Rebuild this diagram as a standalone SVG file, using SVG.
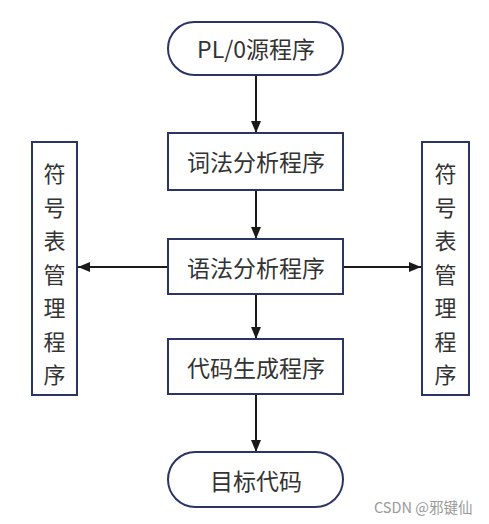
<svg xmlns="http://www.w3.org/2000/svg" width="489" height="524" viewBox="0 0 489 524">
<style>
.n{fill:#fff;stroke:#2b3466;stroke-width:2}
.t{font-family:"Noto Sans CJK SC","Noto Sans",sans-serif;font-size:23px;fill:#333;text-anchor:middle;dominant-baseline:central}
.v{font-size:22px}
.c{stroke:#1a1a1a;stroke-width:2;fill:none;marker-end:url(#a)}
.w{font-family:"Noto Sans CJK SC","Liberation Sans",sans-serif;font-size:14.5px;fill:#999}
</style>
<defs>
<marker id="a" viewBox="0 0 12 10" refX="12" refY="5" markerWidth="12" markerHeight="10" markerUnits="userSpaceOnUse" orient="auto">
<path d="M0,0 L12,5 L0,10 z" fill="#1a1a1a"/>
</marker>
</defs>
<rect width="489" height="524" fill="#fff"/>
<g id="connectors">
<line class="c" x1="256" y1="75" x2="256" y2="133"/>
<line class="c" x1="256" y1="190" x2="256" y2="239"/>
<line class="c" x1="256" y1="294" x2="256" y2="339"/>
<line class="c" x1="256" y1="394" x2="256" y2="452"/>
<line class="c" x1="168" y1="267" x2="78" y2="267"/>
<line class="c" x1="343" y1="267" x2="421" y2="267"/>
</g>
<g id="source">
<rect class="n" x="168" y="22" width="175" height="53" rx="26.5"/>
<text class="t" x="256" y="48">PL/0源程序</text>
</g>
<g id="lexer">
<rect class="n" x="168" y="133" width="175" height="57"/>
<text class="t" x="256" y="161">词法分析程序</text>
</g>
<g id="parser">
<rect class="n" x="168" y="239" width="175" height="55"/>
<text class="t" x="256" y="267">语法分析程序</text>
</g>
<g id="codegen">
<rect class="n" x="168" y="339" width="175" height="55"/>
<text class="t" x="256" y="367">代码生成程序</text>
</g>
<g id="target">
<rect class="n" x="168" y="452" width="175" height="55" rx="27.5"/>
<text class="t" x="256" y="480">目标代码</text>
</g>
<g id="symtab-left">
<rect class="n" x="32" y="142" width="45" height="253"/>
<text class="t v" x="54.5" y="172">符</text>
<text class="t v" x="54.5" y="205.5">号</text>
<text class="t v" x="54.5" y="239">表</text>
<text class="t v" x="54.5" y="272.5">管</text>
<text class="t v" x="54.5" y="306">理</text>
<text class="t v" x="54.5" y="339.5">程</text>
<text class="t v" x="54.5" y="373">序</text>
</g>
<g id="symtab-right">
<rect class="n" x="422" y="142" width="47" height="253"/>
<text class="t v" x="445.5" y="172">符</text>
<text class="t v" x="445.5" y="205.5">号</text>
<text class="t v" x="445.5" y="239">表</text>
<text class="t v" x="445.5" y="272.5">管</text>
<text class="t v" x="445.5" y="306">理</text>
<text class="t v" x="445.5" y="339.5">程</text>
<text class="t v" x="445.5" y="373">序</text>
</g>
<text class="w" x="374" y="513">CSDN @邪键仙</text>
</svg>
